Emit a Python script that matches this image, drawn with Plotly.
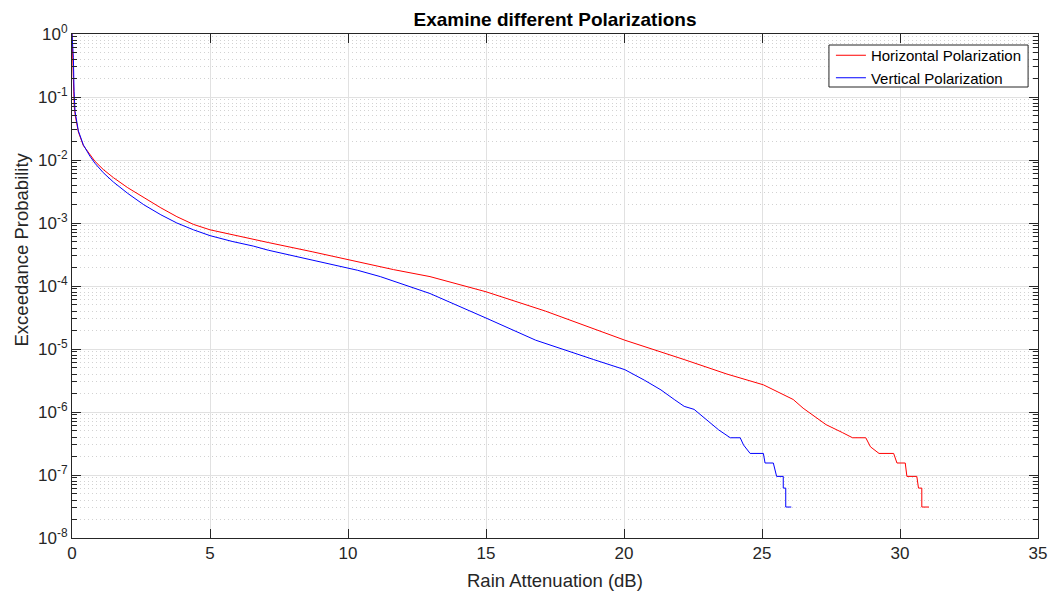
import plotly.graph_objects as go

# Rain attenuation (dB) and exceedance probability for each polarization
atten_h = [0, 0.02, 0.05, 0.08, 0.12, 0.23, 0.41, 0.65, 0.83, 1.13, 1.5, 2.02, 2.6,
           3.22, 3.8, 4.4, 5.0, 5.8, 6.57, 7.11, 8.7, 10.34, 11.65, 12.97, 15.0, 17.15,
           18.95, 20.03, 22.18, 23.73, 25.05, 26.13, 26.49, 27.32, 27.92, 28.28, 28.76,
           28.93, 29.24, 29.77, 29.89, 30.19, 30.25, 30.61, 30.67, 30.79, 30.79, 31.05]
prob_h = [1.0, 0.40, 0.14, 0.071, 0.050, 0.028, 0.0170, 0.0120, 0.00955, 0.00708,
          0.00525, 0.00363, 0.00251, 0.00174, 0.00126, 9.5e-4, 7.8e-4, 6.5e-4, 5.5e-4,
          4.9e-4, 3.5e-4, 2.45e-4, 1.82e-4, 1.41e-4, 8.1e-5, 4.0e-5, 2.04e-5, 1.38e-5,
          6.8e-6, 4.0e-6, 2.7e-6, 1.58e-6, 1.15e-6, 6.3e-7, 4.7e-7, 3.9e-7, 3.9e-7,
          2.8e-7, 2.2e-7, 2.2e-7, 1.55e-7, 1.55e-7, 9.5e-8, 9.5e-8, 6.2e-8, 6.2e-8,
          3.1e-8, 3.1e-8]

atten_v = [0, 0.02, 0.05, 0.075, 0.11, 0.23, 0.41, 0.65, 0.83, 1.13, 1.5, 2.02, 2.6,
           3.22, 3.8, 4.4, 5.0, 5.8, 6.57, 7.11, 8.7, 10.34, 11.17, 12.97, 15.0, 16.8,
           18.9, 20.03, 20.74, 21.34, 21.82, 22.18, 22.54, 23.13, 23.43, 23.85, 24.21,
           24.33, 24.57, 25.05, 25.11, 25.41, 25.47, 25.53, 25.77, 25.77, 25.86, 25.86,
           26.06]
prob_v = [1.0, 0.63, 0.42, 0.123, 0.059, 0.029, 0.0174, 0.0115, 0.0089, 0.0063,
          0.00447, 0.00295, 0.00195, 0.00135, 1.0e-3, 7.8e-4, 6.3e-4, 5.1e-4, 4.3e-4,
          3.7e-4, 2.57e-4, 1.78e-4, 1.41e-4, 7.6e-5, 3.1e-5, 1.38e-5, 6.8e-6, 4.7e-6,
          3.2e-6, 2.24e-6, 1.58e-6, 1.23e-6, 1.10e-6, 6.8e-7, 5.2e-7, 3.9e-7, 3.9e-7,
          3.0e-7, 2.2e-7, 2.2e-7, 1.55e-7, 1.55e-7, 1.2e-7, 9.5e-8, 9.5e-8, 6.2e-8,
          6.2e-8, 3.1e-8, 3.1e-8]

x_ticks = [0, 5, 10, 15, 20, 25, 30, 35]
y_exponents = [0, -1, -2, -3, -4, -5, -6, -7, -8]

TXT = "#262626"
FONT = "Liberation Sans, Arial, sans-serif"

# plot area in pixels
W, H = 1059, 595
L, R, T, B = 72, 12, 34, 57
PW, PH = W - L - R, H - T - B


def px_x(p):
    return (p - L) / PW


def px_y(p):
    return (H - B - p) / PH


fig = go.Figure()
fig.add_trace(go.Scatter(x=atten_h, y=prob_h, mode="lines", name="Horizontal Polarization",
                         line=dict(color="#ff0000", width=1)))
fig.add_trace(go.Scatter(x=atten_v, y=prob_v, mode="lines", name="Vertical Polarization",
                         line=dict(color="#0000ff", width=1)))

# legend frame
fig.add_shape(type="rect", xref="paper", yref="paper",
              x0=px_x(836), x1=px_x(1037), y0=px_y(87), y1=px_y(45),
              line=dict(color=TXT, width=1), fillcolor="white", layer="above")

fig.update_layout(
    width=W, height=H,
    margin=dict(l=L, r=R, t=T, b=B),
    paper_bgcolor="white", plot_bgcolor="white",
    font=dict(family=FONT, color=TXT, size=17),
    title=dict(text="<b>Examine different Polarizations</b>", x=0.5, xref="paper",
               y=1 - 19 / H, yref="container", yanchor="middle",
               font=dict(size=19, color="#000000")),
    legend=dict(x=px_x(838), xanchor="left", y=px_y(39), yanchor="top",
                bgcolor="rgba(0,0,0,0)", borderwidth=0,
                font=dict(size=15, color="#000000"),
                tracegroupgap=0, itemwidth=30),
    showlegend=True,
    annotations=[
        dict(text="Rain Attenuation (dB)", xref="paper", yref="paper",
             x=0.5, y=px_y(580), xanchor="center", yanchor="middle",
             showarrow=False, font=dict(size=18.5, color=TXT)),
        dict(text="Exceedance Probability", xref="paper", yref="paper",
             x=px_x(21), y=px_y(249), xanchor="center", yanchor="middle",
             textangle=-90, showarrow=False, font=dict(size=18.5, color=TXT)),
    ],
)

fig.update_xaxes(
    range=[0, 35], tickvals=x_ticks, ticktext=[str(v) for v in x_ticks],
    ticks="inside", ticklen=9, tickcolor=TXT, tickwidth=1,
    showline=True, linecolor=TXT, linewidth=1, mirror="ticks",
    showgrid=True, gridcolor="#e1e1e1", gridwidth=1, zeroline=False,
    tickfont=dict(size=17, color=TXT),
)

fig.update_yaxes(
    type="log", range=[-8, 0],
    tickvals=[10 ** e for e in y_exponents],
    ticktext=[f"10<sup>{e}</sup>" for e in y_exponents],
    ticks="inside", ticklen=9, tickcolor=TXT, tickwidth=1,
    showline=True, linecolor=TXT, linewidth=1, mirror="ticks",
    showgrid=True, gridcolor="#e1e1e1", gridwidth=1, zeroline=False,
    tickfont=dict(size=17, color=TXT),
    minor=dict(dtick="D1", ticks="inside", ticklen=5, tickcolor=TXT,
               showgrid=True, gridcolor="#d2d2d2", griddash="1px,3px", gridwidth=1),
)

fig.write_html("out.html")
